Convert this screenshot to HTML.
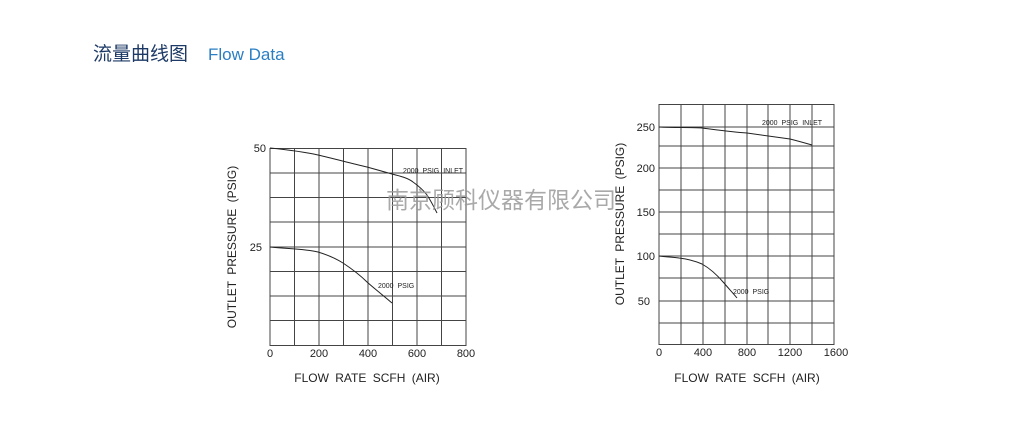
<!DOCTYPE html>
<html><head><meta charset="utf-8"><style>
html,body{margin:0;padding:0;background:#fff;}
body{width:1022px;height:424px;position:relative;overflow:hidden;font-family:"Liberation Sans","Noto Sans CJK SC",sans-serif;}
</style></head><body>
<div style="position:absolute;left:93px;top:39px;font-size:19px;color:#1d3a66;font-family:'Liberation Sans','Noto Sans CJK SC',sans-serif;white-space:nowrap;">流量曲线图<span style="font-size:17px;color:#2a7fc4;margin-left:20px;">Flow Data</span></div>
<svg width="1022" height="424" style="position:absolute;left:0;top:0" font-family="Liberation Sans, sans-serif">
<g stroke="#444" stroke-width="1" fill="none">
<rect x="270" y="148.5" width="196" height="197"/>
<path d="M294.5 148v197M319 148v197M343.5 148v197M368 148v197M392.5 148v197M417 148v197M441.5 148v197"/>
<path d="M270 173h196M270 197.5h196M270 222h196M270 247h196M270 271.5h196M270 296h196M270 320.5h196"/>
<rect x="659" y="104.5" width="175" height="240"/>
<path d="M681 104v240M703 104v240M725 104v240M747 104v240M768 104v240M790 104v240M812 104v240"/>
<path d="M659 127h175M659 146h175M659 168h175M659 190h175M659 212h175M659 234h175M659 256h175M659 278h175M659 301h175M659 323h175"/>
</g>
<g stroke="#222" stroke-width="1" fill="none">
<path d="M270 148 C290 150 305 152 318 155 C335 159 350 163 367 167 C378 170 385 172 392 174 C400 176 408 178 413 182 C420 187 424 191 427 195 C431 201 434 207 437 213"/>
<path d="M270 247 C290 249 305 249 318 252 C328 255 335 258 343 263 C352 269 360 275 367 282 C376 290 384 296 392 303"/>
<path d="M659 127 C675 128 690 127 702 128 C718 130 732 132 747 133 C762 135 776 137 790 139 C798 141 805 143 812 145"/>
<path d="M659 256 C666 257 672 257 679 258 C688 259 695 261 702 264 C711 269 718 276 724 283 C729 289 733 293 737 298"/>
</g>
<g font-size="7" fill="#222" word-spacing="2">
<text x="403" y="173">2000 PSIG INLET</text>
<text x="378" y="288">2000 PSIG</text>
<text x="762" y="125">2000 PSIG INLET</text>
<text x="733" y="294">2000 PSIG</text>
</g>
<g font-size="11" fill="#222">
<text x="266" y="152" text-anchor="end">50</text>
<text x="262" y="251" text-anchor="end">25</text>
<text x="270" y="357" text-anchor="middle">0</text>
<text x="319" y="357" text-anchor="middle">200</text>
<text x="368" y="357" text-anchor="middle">400</text>
<text x="417" y="357" text-anchor="middle">600</text>
<text x="466" y="357" text-anchor="middle">800</text>
<text x="655" y="131" text-anchor="end">250</text>
<text x="655" y="172" text-anchor="end">200</text>
<text x="655" y="216" text-anchor="end">150</text>
<text x="655" y="260" text-anchor="end">100</text>
<text x="650" y="305" text-anchor="end">50</text>
<text x="659" y="356" text-anchor="middle">0</text>
<text x="703" y="356" text-anchor="middle">400</text>
<text x="747" y="356" text-anchor="middle">800</text>
<text x="790" y="356" text-anchor="middle">1200</text>
<text x="836" y="356" text-anchor="middle">1600</text>
</g>
<g font-size="12" fill="#222" word-spacing="3">
<text x="367" y="382" text-anchor="middle">FLOW RATE SCFH (AIR)</text>
<text x="747" y="382" text-anchor="middle">FLOW RATE SCFH (AIR)</text>
<text transform="translate(236,247) rotate(-90)" text-anchor="middle">OUTLET PRESSURE (PSIG)</text>
<text transform="translate(624,224) rotate(-90)" text-anchor="middle">OUTLET PRESSURE (PSIG)</text>
</g>
<text x="501" y="208" text-anchor="middle" font-size="23" fill="#9a9a9a" fill-opacity="0.85" font-family="Liberation Sans, Noto Sans CJK SC, sans-serif">南京顾科仪器有限公司</text>
</svg>
</body></html>
